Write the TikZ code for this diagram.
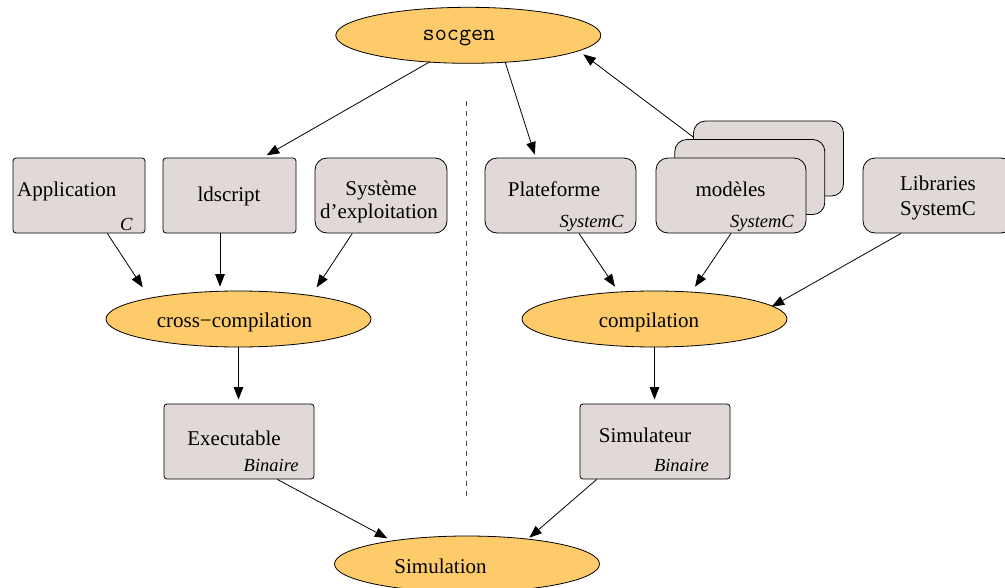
\documentclass[tikz,border=0pt]{standalone}
\usepackage{fontspec}
\setmainfont{Liberation Serif}
\usetikzlibrary{shapes.geometric,arrows.meta,calc}
\definecolor{ellfill}{HTML}{FDCB6A}
\definecolor{boxfill}{HTML}{E0D9D7}
\begin{document}
\begin{tikzpicture}[x=1pt,y=-1pt,
  ell/.style={draw=black, fill=ellfill, ellipse, line width=0.8pt, minimum width=265pt, minimum height=56pt, inner sep=0pt},
  box/.style={draw=black, fill=boxfill, rectangle, line width=0.8pt, minimum width=150pt, minimum height=75pt, inner sep=0pt},
  sq/.style={box, rounded corners=3pt},
  rnd/.style={box, rounded corners=12pt},
  lbl/.style={font=\fontsize{21}{24}\selectfont, anchor=base, inner sep=0pt},
  sub/.style={font=\fontsize{18.5}{22}\selectfont\itshape, anchor=base east, inner sep=0pt},
  arr/.style={line width=0.8pt, -{Triangle[length=12.5pt,width=9.5pt]}},
  sep/.style={draw=black!70, line width=0.9pt, dash pattern=on 5pt off 5pt}]
\useasboundingbox (0,0) rectangle (1005,587);

% dashed separator
\coordinate (dtop) at (466,101);
\coordinate (dbot) at (466,498);
\draw[sep] (dtop) -- (dbot);

% ellipses
\node[ell] (socgen) at (468.3,35.3) {};
\node[lbl, font=\fontsize{23.5}{26}\selectfont\ttfamily] (tsocgen) at (459,40.7) {socgen};
\node[ell] (cross) at (238.5,319) {};
\node[lbl] (tcross) at (234.5,327.7) {cross−compilation};
\node[ell] (comp) at (654.5,319) {};
\node[lbl] (tcomp) at (649,327.7) {compilation};
\node[ell] (simul) at (467,564) {};
\node[lbl] (tsimul) at (440.5,573.3) {Simulation};

% left boxes
\node[sq, minimum width=132pt] (app) at (79,195.5) {};
\node[lbl, anchor=base west] (tapp) at (17,196.7) {Application};
\node[sub] (sapp) at (132.7,230) {C};
\node[sq, minimum width=133pt] (ld) at (229.5,195.5) {};
\node[lbl] (tld) at (229,201) {ldscript};
\node[rnd, minimum width=132pt] (sys) at (381,195.5) {};
\node[lbl] (tsys1) at (381,195) {Système};
\node[lbl] (tsys2) at (379,218.3) {d’exploitation};

% right boxes
\node[rnd, minimum width=151pt] (plat) at (560.5,195.5) {};
\node[lbl] (tplat) at (554,196.7) {Plateforme};
\node[sub] (splat) at (623.6,227.3) {SystemC};

% stack of models, the line from the back box is drawn first
\node[rnd] (modB) at (768.5,158.5) {};
\draw[arr] ($(modB.north west)+(0,16.3)$) -- ($(socgen.center)+(115,19)$);
\node[rnd] (modM) at (749.8,177) {};
\node[rnd] (modF) at (731,195.5) {};
\node[lbl] (tmod) at (730.6,196.7) {modèles};
\node[sub] (smod) at (794,227.3) {SystemC};

\node[rnd] (lib) at (938,195.5) {};
\node[lbl] (tlib1) at (938,190.7) {Libraries};
\node[lbl] (tlib2) at (938,215) {SystemC};

% bottom boxes
\node[sq] (exec) at (239,441.5) {};
\node[lbl] (texec) at (234,445) {Executable};
\node[sub] (sexec) at (298.7,471.7) {Binaire};
\node[sq] (simr) at (655,441.5) {};
\node[lbl] (tsimr) at (645,442.7) {Simulateur};
\node[sub] (ssimr) at (709,471.7) {Binaire};

% connectors
\draw[arr] ($(socgen.center)+(-38.3,26.4)$) -- ($(ld.north)+(37.2,-2.3)$);
\draw[arr] ($(socgen.center)+(36.7,26.4)$) -- ($(plat.north)+(-25.7,-3)$);

\draw[arr] ($(app.south)+(28.3,0)$) -- ($(cross.center)+(-95.8,-31.7)$);
\draw[arr] ($(ld.south)+(-9.5,0)$) -- ($(cross.center)+(-18.5,-32.3)$);
\draw[arr] ($(sys.south)+(-28.7,0)$) -- ($(cross.center)+(78.2,-31.7)$);

\draw[arr] ($(plat.south)+(18.5,0)$) -- ($(comp.center)+(-39.5,-32.3)$);
\draw[arr] (modF.south) -- ($(comp.center)+(40.5,-32.3)$);
\draw[arr] ($(lib.south)+(-37,0)$) -- ($(comp.center)+(117.2,-12.3)$);

\draw[arr] (cross.south) -- ($(cross.south |- exec.north)+(0,-4)$);
\draw[arr] (comp.south) -- ($(comp.south |- simr.north)+(0,-4)$);

\draw[arr] ($(exec.south)+(38.3,0)$) -- ($(simul.center)+(-79.7,-25.7)$);
\draw[arr] ($(simr.south)+(-58.3,0)$) -- ($(simul.center)+(62.3,-26.3)$);
\end{tikzpicture}
\end{document}
